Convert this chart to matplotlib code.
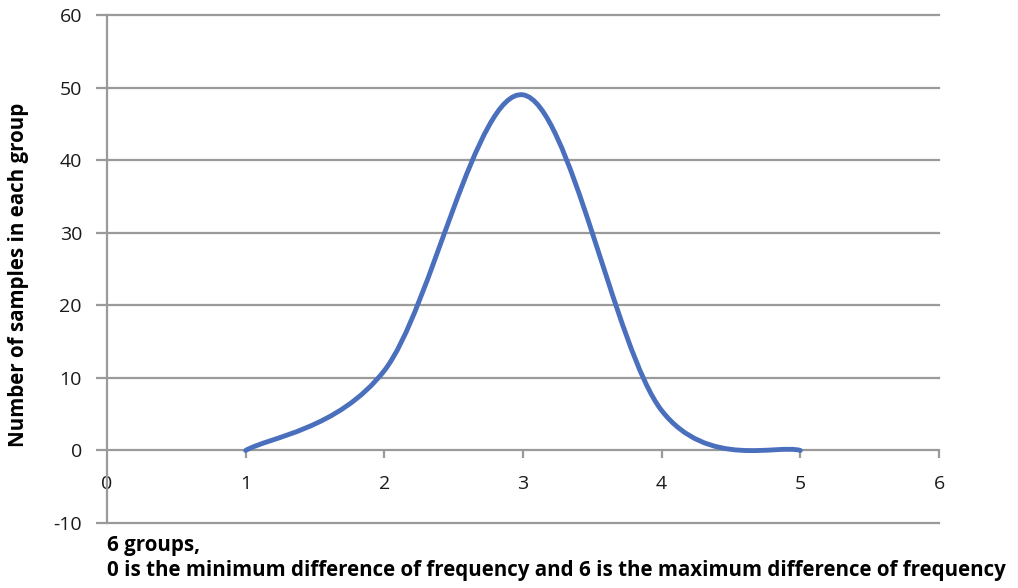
import numpy as np
from matplotlib import pyplot as plt
from matplotlib.path import Path
from matplotlib.patches import PathPatch

# data
groups = [1, 2, 3, 4, 5]
samples = [0, 11, 49, 5.5, 0]
xTicks = [0, 1, 2, 3, 4, 5, 6]
yTicks = [-10, 0, 10, 20, 30, 40, 50, 60]

gridColor = '#9a9a98'
lineColor = '#4a6fbd'
plt.rcParams['font.family'] = ['Open Sans', 'DejaVu Sans']
plt.rcParams['axes.unicode_minus'] = False


def smoothPath(xs, ys):
    # Excel-like smoothed line: cubic bezier with catmull-rom style control points
    pts = np.column_stack([xs, ys]).astype(float)
    n = len(pts)
    verts = [pts[0]]
    codes = [Path.MOVETO]
    for i in range(n - 1):
        prev = pts[i - 1] if i > 0 else pts[i]
        nxt = pts[i + 2] if i + 2 < n else pts[i + 1]
        c1 = pts[i] + (pts[i + 1] - prev) / 6.
        c2 = pts[i + 1] - (nxt - pts[i]) / 6.
        verts += [c1, c2, pts[i + 1]]
        codes += [Path.CURVE4] * 3
    return Path(verts, codes)


fig = plt.figure(figsize=(10.18, 5.88), dpi=100)
ax = fig.add_axes([0.1051, 0.1105, 0.8173, 0.864])
ax.set_xlim(0, 6)
ax.set_ylim(-10, 60)
ax.set_xticks(xTicks)
ax.set_yticks(yTicks)

for y in yTicks:
    if y != 0:
        ax.axhline(y, color=gridColor, lw=1.6, zorder=1, clip_on=False)

for side in ['top', 'right']:
    ax.spines[side].set_visible(False)
ax.spines['bottom'].set_position(('data', 0))
ax.spines['bottom'].set_color(gridColor)
ax.spines['bottom'].set_linewidth(1.6)
ax.spines['left'].set_color(gridColor)
ax.spines['left'].set_linewidth(1.6)

ax.tick_params(axis='x', direction='out', length=6, width=1.6, color=gridColor, pad=12,
               labelsize=14, labelcolor='#1a1a1a')
ax.tick_params(axis='y', direction='out', length=8, width=1.6, color=gridColor, pad=10,
               labelsize=14, labelcolor='#1a1a1a')
ax.set_xticklabels([str(v) for v in xTicks])
ax.xaxis.get_ticklines()[0].set_visible(False)

patch = PathPatch(smoothPath(groups, samples), facecolor='none', edgecolor=lineColor,
                  lw=3.5, capstyle='round', zorder=3)
ax.add_patch(patch)

fig.text(0.018, 0.532, 'Number of samples in each group', rotation=90, fontsize=14.8,
         fontweight='bold', ha='center', va='center')
fig.text(0.105, 0.073, '6 groups,', fontsize=14.8, fontweight='bold', ha='left', va='center')
fig.text(0.105, 0.030, '0 is the minimum difference of frequency and 6 is the maximum difference of frequency',
         fontsize=14.8, fontweight='bold', ha='left', va='center')

plt.savefig('out.png', dpi=100)
plt.close(fig)
